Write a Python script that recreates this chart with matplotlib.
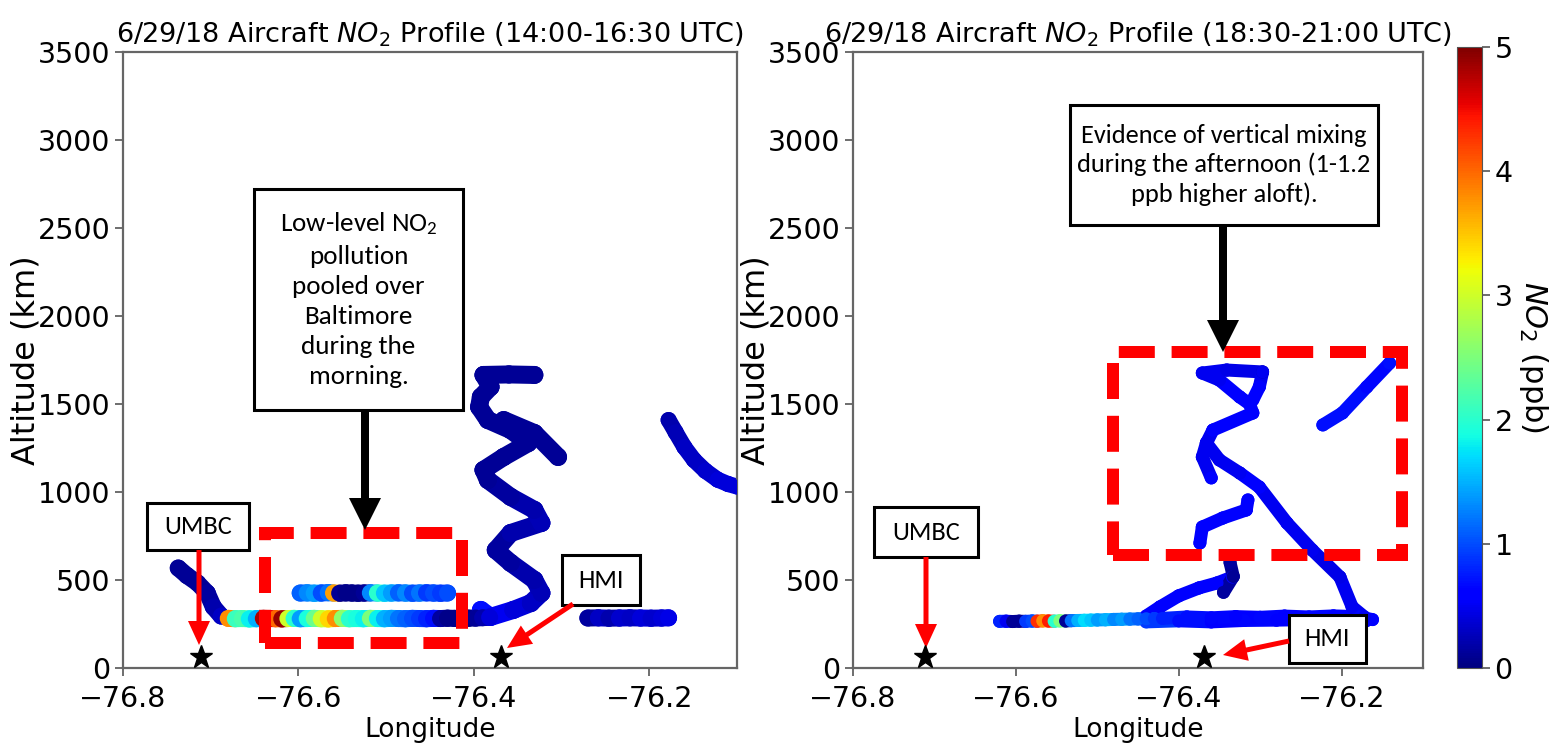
import numpy as np
import matplotlib
matplotlib.use("Agg")
import matplotlib.pyplot as plt
from matplotlib.collections import LineCollection
from matplotlib.patches import Rectangle, FancyArrowPatch
from matplotlib.colors import Normalize
from matplotlib.cm import ScalarMappable

# ---------------- data ----------------
LON_TICKS = [-76.8, -76.6, -76.4, -76.2]
ALT_TICKS = [0, 500, 1000, 1500, 2000, 2500, 3000, 3500]
CB_TICKS = [0, 1, 2, 3, 4, 5]
TITLES = ["6/29/18 Aircraft $NO_2$ Profile (14:00-16:30 UTC)",
          "6/29/18 Aircraft $NO_2$ Profile (18:30-21:00 UTC)"]
SITE_NAMES = ["UMBC", "HMI"]
SITE_LON = [-76.711, -76.369]
SITE_ALT = [60, 60]

# morning flight (left panel)
m_desc_lon = [-76.737, -76.727, -76.715, -76.704, -76.697, -76.688]
m_desc_alt = [568, 525, 483, 426, 347, 295]
m_desc_no2 = [0.1, 0.1, 0.1, 0.15, 0.2, 0.3]

m_low_lon = [-76.680, -76.672, -76.664, -76.656, -76.648, -76.640, -76.633, -76.626,
             -76.619, -76.612, -76.605, -76.598, -76.590, -76.582, -76.574, -76.566,
             -76.558, -76.550, -76.542, -76.534, -76.526, -76.518, -76.510, -76.502,
             -76.494, -76.486, -76.478, -76.470, -76.462, -76.454, -76.446, -76.438,
             -76.430, -76.422, -76.414, -76.406, -76.398, -76.390, -76.382]
m_low_alt = [282, 280, 281, 279, 280, 282, 281, 280, 279, 281, 282, 280, 281, 282, 280, 279,
             281, 282, 280, 281, 280, 282, 281, 280, 282, 281, 280, 282, 281, 280, 282, 281,
             283, 282, 280, 283, 284, 286, 288]
m_low_no2 = [3.8, 2.1, 2.2, 1.8, 1.5, 4.8, 4.5, 4.0, 4.9, 3.0, 2.0, 1.4, 1.9, 2.4, 3.0, 3.4,
             3.8, 2.6, 2.0, 1.9, 1.8, 2.5, 1.8, 1.5, 1.4, 1.2, 1.1, 1.0, 0.9, 0.8, 0.7, 0.15,
             0.05, 0.05, 0.05, 0.05, 0.1, 0.2, 0.4]

m_up_lon = [-76.598, -76.590, -76.582, -76.574, -76.566, -76.560, -76.553, -76.546, -76.539,
            -76.532, -76.525, -76.518, -76.510, -76.502, -76.494, -76.486, -76.478, -76.470,
            -76.462, -76.454, -76.446, -76.438, -76.430]
m_up_alt = [426, 427, 425, 426, 428, 426, 425, 427, 426, 425, 426, 427, 426, 425, 426, 427,
            426, 425, 426, 427, 426, 425, 426]
m_up_no2 = [1.1, 1.3, 1.4, 1.0, 1.2, 3.7, 0.1, 0.05, 0.05, 0.05, 0.1, 1.3, 2.0, 1.6, 1.4, 1.1,
            1.3, 1.0, 1.2, 0.9, 1.0, 0.9, 1.0]

m_sp_lon = [-76.392, -76.381, -76.355, -76.335, -76.323, -76.331, -76.358, -76.375, -76.358,
            -76.323, -76.331, -76.358, -76.384, -76.389, -76.366, -76.338, -76.358, -76.384,
            -76.394, -76.392, -76.381, -76.389, -76.360, -76.331]
m_sp_alt = [330, 290, 330, 369, 426, 500, 597, 670, 767, 824, 898, 972, 1068, 1125, 1199,
            1278, 1352, 1409, 1483, 1540, 1597, 1665, 1668, 1665]
m_sp_no2 = [0.7, 0.5, 0.4, 0.3, 0.25, 0.2, 0.15, 0.15, 0.2, 0.25, 0.2, 0.15, 0.1, 0.1, 0.1,
            0.1, 0.1, 0.1, 0.1, 0.1, 0.1, 0.1, 0.1, 0.1]

m_br_lon = [-76.366, -76.331, -76.304]
m_br_alt = [1409, 1335, 1199]
m_br_no2 = [0.1, 0.1, 0.1]

m_east_lon = [-76.270, -76.258, -76.246, -76.234, -76.222, -76.210, -76.198, -76.186, -76.178]
m_east_alt = [284, 285, 283, 284, 285, 284, 283, 284, 285]
m_east_no2 = [0.15, 0.3, 0.2, 0.35, 0.3, 0.4, 0.35, 0.4, 0.45]

m_arc_lon = [-76.178, -76.170, -76.160, -76.149, -76.136, -76.122, -76.110, -76.098]
m_arc_alt = [1409, 1340, 1255, 1182, 1120, 1070, 1045, 1028]
m_arc_no2 = [0.2, 0.25, 0.3, 0.3, 0.35, 0.4, 0.4, 0.4]

# afternoon flight (right panel)
a_low_lon = [-76.620, -76.612, -76.604, -76.596, -76.588, -76.580, -76.574, -76.567, -76.560,
             -76.553, -76.546, -76.539, -76.532, -76.524, -76.516, -76.508, -76.500, -76.490,
             -76.480, -76.470, -76.460, -76.450, -76.440, -76.430, -76.420]
a_low_alt = [265, 266, 264, 266, 265, 267, 266, 268, 267, 266, 268, 267, 269, 270, 271, 272,
             273, 274, 276, 277, 278, 279, 280, 281, 282]
a_low_no2 = [0.8, 0.5, 0.1, 0.1, 0.9, 1.0, 4.3, 3.8, 4.4, 2.0, 2.5, 0.1, 1.2, 1.5, 1.7, 1.6,
             1.4, 1.5, 1.3, 1.4, 1.2, 1.1, 1.0, 0.9, 0.8]

a_east1_lon = [-76.420, -76.390, -76.360, -76.330, -76.300, -76.270, -76.240, -76.210, -76.180, -76.162]
a_east1_alt = [282, 290, 285, 292, 288, 295, 290, 296, 292, 275]
a_east1_no2 = [0.8, 0.7, 0.65, 0.6, 0.65, 0.6, 0.65, 0.6, 0.65, 0.6]

a_east2_lon = [-76.440, -76.400, -76.360, -76.320, -76.280, -76.240, -76.200, -76.170]
a_east2_alt = [262, 268, 262, 270, 272, 275, 278, 268]
a_east2_no2 = [0.9, 0.7, 0.6, 0.65, 0.6, 0.6, 0.65, 0.6]

a_br1_lon = [-76.440, -76.423, -76.400, -76.375, -76.353, -76.334]
a_br1_alt = [295, 347, 410, 455, 483, 517]
a_br1_no2 = [0.6, 0.6, 0.6, 0.55, 0.6, 0.6]

a_navy_lon = [-76.345, -76.333, -76.337]
a_navy_alt = [430, 520, 600]
a_navy_no2 = [0.15, 0.1, 0.15]

a_p2_lon = [-76.374, -76.371, -76.346, -76.317, -76.315]
a_p2_alt = [710, 801, 852, 898, 955]
a_p2_no2 = [0.6, 0.6, 0.6, 0.6, 0.6]

a_diag_lon = [-76.172, -76.187, -76.202, -76.236, -76.267, -76.301, -76.325, -76.350, -76.366]
a_diag_alt = [290, 347, 517, 670, 824, 1028, 1108, 1182, 1278]
a_diag_no2 = [0.5, 0.5, 0.45, 0.5, 0.5, 0.55, 0.5, 0.5, 0.5]

a_hook_lon = [-76.366, -76.371, -76.360]
a_hook_alt = [1278, 1199, 1080]
a_hook_no2 = [0.5, 0.5, 0.55]

a_zig_lon = [-76.366, -76.358, -76.309, -76.313, -76.325, -76.350, -76.371, -76.341, -76.297]
a_zig_alt = [1278, 1352, 1449, 1500, 1540, 1636, 1676, 1693, 1682]
a_zig_no2 = [0.5, 0.55, 0.6, 0.6, 0.55, 0.5, 0.5, 0.45, 0.15]

a_drop_lon = [-76.297, -76.301, -76.309]
a_drop_alt = [1682, 1597, 1523]
a_drop_no2 = [0.5, 0.55, 0.55]

a_ne_lon = [-76.223, -76.199, -76.169, -76.141]
a_ne_alt = [1381, 1449, 1597, 1733]
a_ne_no2 = [0.7, 0.7, 0.65, 0.7]

# ---------------- figure ----------------
W, H = 1551, 752
fig = plt.figure(figsize=(W / 100, H / 100), dpi=100)
CMAP = plt.get_cmap("jet")
NORM = Normalize(vmin=0, vmax=5)
ANNO_FONT = ["Carlito", "Lato", "DejaVu Sans"]


def fx(x):
    return x / W


def fy(y):
    return 1 - y / H


def px2pt(p):
    return p * 72.0 / 100.0


def draw_track(ax, lon, alt, val, width_px, dots=True):
    lw = px2pt(width_px)
    pts = np.column_stack([lon, alt])
    segs = np.stack([pts[:-1], pts[1:]], axis=1)
    lc = LineCollection(segs, cmap=CMAP, norm=NORM, linewidths=lw,
                        capstyle="round", joinstyle="round", zorder=2)
    lc.set_array(np.asarray(val[:-1], dtype=float))
    ax.add_collection(lc)
    if dots:
        ax.scatter(lon, alt, c=val, cmap=CMAP, norm=NORM, s=lw ** 2,
                   edgecolors="none", zorder=3)


def box(ax, x0, y0, x1, y1, text, size=18, ls=1.25):
    r = Rectangle((fx(x0), fy(y1)), fx(x1) - fx(x0), fy(y0) - fy(y1),
                  transform=fig.transFigure, facecolor="white", edgecolor="black",
                  linewidth=2.2, zorder=7, clip_on=False)
    ax.add_patch(r)
    ax.text(fx((x0 + x1) / 2), fy((y0 + y1) / 2), text, transform=fig.transFigure,
            ha="center", va="center", fontsize=size, family=ANNO_FONT,
            linespacing=ls, zorder=8, clip_on=False)


def dashed_rect(ax, x0, y0, x1, y1):
    r = Rectangle((fx(x0), fy(y1)), fx(x1) - fx(x0), fy(y0) - fy(y1),
                  transform=fig.transFigure, fill=False, edgecolor="#ff0000",
                  linewidth=px2pt(12), linestyle=(0, (3.0, 1.4)), zorder=6, clip_on=False)
    ax.add_patch(r)


def arrow(ax, xa, ya, xb, yb, color, tail, hw, hl):
    a = FancyArrowPatch((fx(xa), fy(ya)), (fx(xb), fy(yb)), transform=fig.transFigure,
                        arrowstyle=f"simple,head_length={px2pt(hl)},head_width={px2pt(hw)},"
                                   f"tail_width={px2pt(tail)}",
                        mutation_scale=1, color=color, linewidth=0,
                        shrinkA=0, shrinkB=0, zorder=9, clip_on=False)
    ax.add_patch(a)


ax1 = fig.add_axes([fx(123), fy(668), fx(737) - fx(123), fy(52) - fy(668)])
ax2 = fig.add_axes([fx(853), fy(668), fx(1423) - fx(853), fy(52) - fy(668)])

for ax, title in zip((ax1, ax2), TITLES):
    ax.set_xlim(-76.8, -76.1)
    ax.set_ylim(0, 3500)
    ax.set_xticks(LON_TICKS)
    ax.set_yticks(ALT_TICKS)
    ax.tick_params(labelsize=20.5, length=6, width=1.2, color="#555555")
    ax.tick_params(axis="x", pad=6)
    ax.tick_params(axis="y", pad=3)
    for s in ax.spines.values():
        s.set_color("#666666")
        s.set_linewidth(1.6)
    ax.set_xlabel("Longitude", fontsize=19, labelpad=3)
    ax.set_ylabel("Altitude (km)", fontsize=23, labelpad=-3)
    ax.set_title(title, fontsize=19.5, pad=7)

# left tracks
draw_track(ax1, m_desc_lon, m_desc_alt, m_desc_no2, 17)
draw_track(ax1, m_sp_lon, m_sp_alt, m_sp_no2, 18)
draw_track(ax1, m_br_lon, m_br_alt, m_br_no2, 18)
draw_track(ax1, m_low_lon, m_low_alt, m_low_no2, 17)
draw_track(ax1, m_up_lon, m_up_alt, m_up_no2, 17)
draw_track(ax1, m_east_lon, m_east_alt, m_east_no2, 17)
draw_track(ax1, m_arc_lon, m_arc_alt, m_arc_no2, 16)

# right tracks
for lo, al, va in [(a_east2_lon, a_east2_alt, a_east2_no2),
                   (a_east1_lon, a_east1_alt, a_east1_no2),
                   (a_br1_lon, a_br1_alt, a_br1_no2),
                   (a_navy_lon, a_navy_alt, a_navy_no2),
                   (a_p2_lon, a_p2_alt, a_p2_no2),
                   (a_diag_lon, a_diag_alt, a_diag_no2),
                   (a_hook_lon, a_hook_alt, a_hook_no2),
                   (a_zig_lon, a_zig_alt, a_zig_no2),
                   (a_drop_lon, a_drop_alt, a_drop_no2),
                   (a_ne_lon, a_ne_alt, a_ne_no2),
                   (a_low_lon, a_low_alt, a_low_no2)]:
    draw_track(ax2, lo, al, va, 13)

for ax in (ax1, ax2):
    ax.plot(SITE_LON, SITE_ALT, linestyle="none", marker="*", markersize=17,
            color="black", zorder=10, clip_on=False)

# annotations left
dashed_rect(ax1, 265, 533, 462, 643)
box(ax1, 254, 189, 463, 410,
    "Low-level NO$\\mathregular{_2}$\npollution\npooled over\nBaltimore\nduring the\nmorning.",
    size=19.5, ls=1.38)
arrow(ax1, 365, 410, 365, 530, "black", 8, 32, 32)
box(ax1, 147, 503, 249, 550, SITE_NAMES[0], size=19)
arrow(ax1, 199, 550, 199, 645, "#ff0000", 5, 22, 24)
box(ax1, 562, 555, 640, 605, SITE_NAMES[1], size=19)
arrow(ax1, 573, 604, 507, 648, "#ff0000", 5, 22, 24)

# annotations right
dashed_rect(ax2, 1113, 352, 1402, 555)
box(ax2, 1070, 105, 1378, 225,
    "Evidence of vertical mixing\nduring the afternoon (1-1.2\nppb higher aloft).",
    size=19, ls=1.3)
arrow(ax2, 1223, 225, 1223, 352, "black", 8, 32, 32)
box(ax2, 874, 507, 978, 557, SITE_NAMES[0], size=19)
arrow(ax2, 926, 557, 926, 648, "#ff0000", 5, 22, 24)
box(ax2, 1289, 615, 1366, 663, SITE_NAMES[1], size=19)
arrow(ax2, 1289, 641, 1223, 655, "#ff0000", 5, 22, 24)

# colorbar
cax = fig.add_axes([fx(1457), fy(668), fx(1482) - fx(1457), fy(47) - fy(668)])
cb = fig.colorbar(ScalarMappable(norm=NORM, cmap=CMAP), cax=cax, ticks=CB_TICKS)
cb.outline.set_linewidth(0.8)
cb.outline.set_edgecolor("#555555")
cax.tick_params(labelsize=20.5, length=6, width=1.2, color="#555555", pad=3)
cb.set_label("$NO_2$ (ppb)", rotation=270, fontsize=22, labelpad=27)

fig.savefig("out.png", dpi=100)
